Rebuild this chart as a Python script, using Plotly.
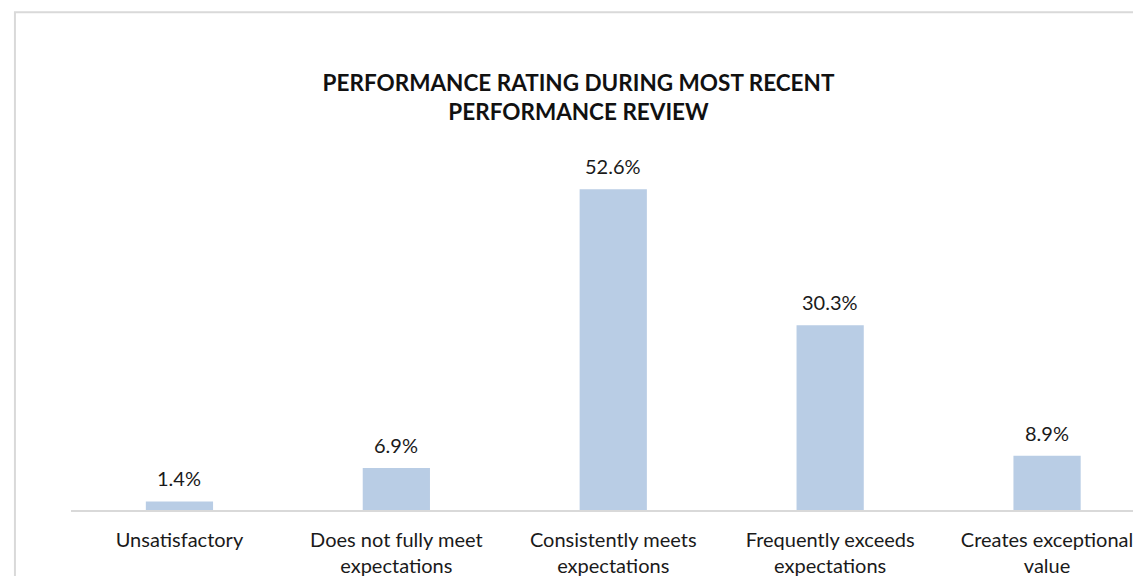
import plotly.graph_objects as go

# Dados do gráfico
categorias = ["Unsatisfactory", "Does not fully meet<br>expectations",
              "Consistently meets<br>expectations", "Frequently exceeds<br>expectations",
              "Creates exceptional<br>value"]
percentuais = [1.4, 6.9, 52.6, 30.3, 8.9]
rotulos = ["1.4%", "6.9%", "52.6%", "30.3%", "8.9%"]

FONTE = "Lato"

fig = go.Figure()
fig.add_trace(go.Bar(
    x=list(range(len(categorias))),
    y=percentuais,
    width=0.31,
    marker_color="#B9CDE5",
    marker_line_width=0,
    hoverinfo="skip",
))

# Rótulos acima das barras
for i, (v, t) in enumerate(zip(percentuais, rotulos)):
    fig.add_annotation(x=i, y=v, text=t, showarrow=False, yanchor="bottom",
                       yshift=9, font=dict(family=FONTE, size=20, color="#1a1a1a"))

# Borda do gráfico
fig.add_shape(type="rect", xref="paper", yref="paper",
              x0=-0.052, x1=0.9963, y0=-0.4, y1=1.36,
              line=dict(color="#D9D9D9", width=2), layer="below")

fig.update_layout(
    width=1141, height=576,
    margin=dict(l=63, r=0, t=136, b=74, autoexpand=False),
    plot_bgcolor="white", paper_bgcolor="white",
    showlegend=False,
    title=dict(text="<b>PERFORMANCE RATING DURING MOST RECENT<br>PERFORMANCE REVIEW</b>",
               x=0.5, xanchor="center", y=1 - 82.5 / 576, yanchor="middle", yref="container",
               font=dict(family=FONTE, size=22.5, color="#111")),
    xaxis=dict(range=[-0.5, 4.47], tickvals=list(range(len(categorias))),
               ticktext=categorias, showgrid=False, zeroline=False,
               showline=True, linecolor="#D9D9D9", linewidth=2, automargin=False,
               ticklabelstandoff=11,
               tickfont=dict(family=FONTE, size=20, color="#1a1a1a"), ticks=""),
    yaxis=dict(range=[0, 60], visible=False),
)

fig.write_html("out.html")
